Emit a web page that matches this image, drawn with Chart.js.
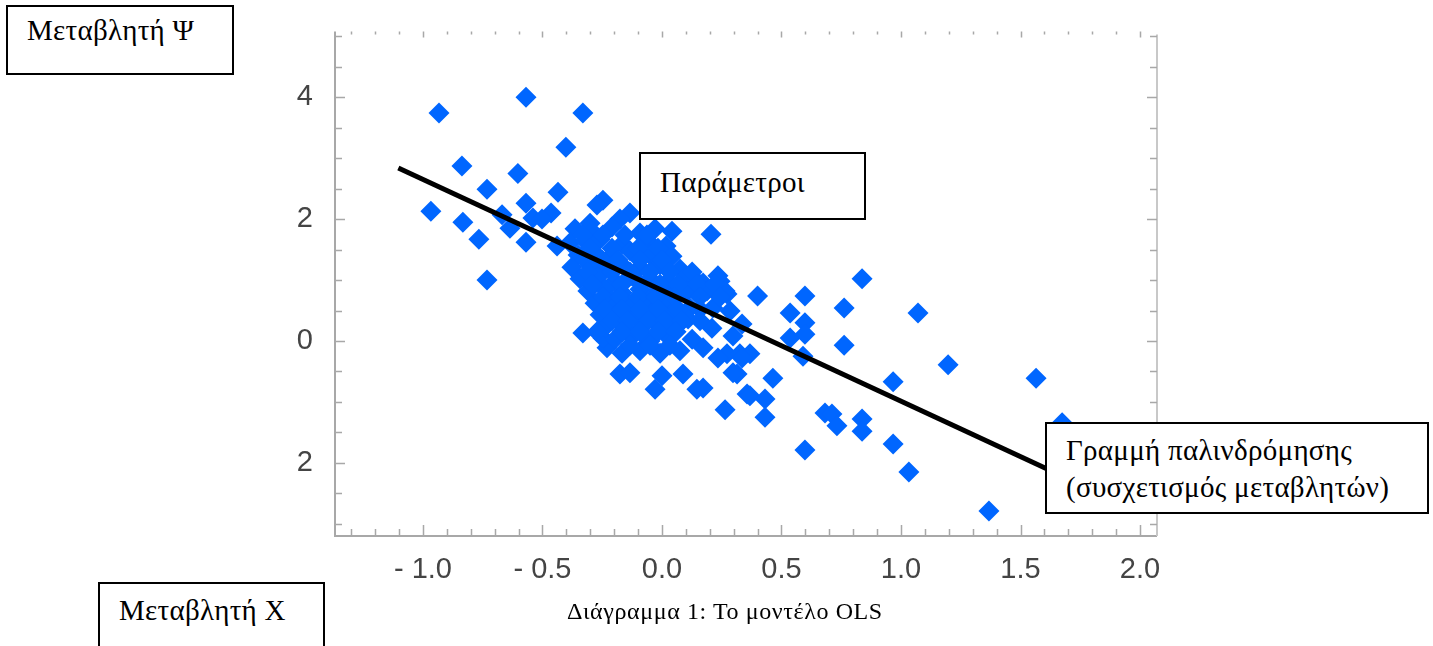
<!DOCTYPE html>
<html>
<head>
<meta charset="utf-8">
<script src="https://cdn.jsdelivr.net/npm/chart.js@4.4.1/dist/chart.umd.min.js"></script>
<style>
  body { margin: 0; background: #fff; }
  #wrap { position: relative; width: 1433px; height: 646px; overflow: hidden; }
  .box {
    position: absolute;
    background: #fff;
    border: 2px solid #000;
    box-sizing: border-box;
    font-family: "Liberation Serif", "DejaVu Serif", serif;
    font-size: 29px;
    letter-spacing: 0.3px;
    color: #000;
  }
  .caption {
    position: absolute;
    font-family: "Liberation Serif", "DejaVu Serif", serif;
    font-size: 24px;
    letter-spacing: 0.6px;
    color: #000;
  }
</style>
</head>
<body>
<div id="wrap">
  <canvas id="olsChart"></canvas>
  <div class="box" style="left:6px; top:5px; width:228px; height:70px; padding:7px 0 0 19px;">Μεταβλητή Ψ</div>
  <div class="box" style="left:639px; top:152px; width:227px; height:68px; padding:12px 0 0 19px;">Παράμετροι</div>
  <div class="box" style="left:1045px; top:422px; width:384px; height:92px; line-height:37px; padding:8px 0 0 19px;">Γραμμή παλινδρόμησης<br>(συσχετισμός μεταβλητών)</div>
  <div class="box" style="left:98px; top:582px; width:227px; height:80px; padding:10px 0 0 19px;">Μεταβλητή Χ</div>
  <div class="caption" style="left:567px; top:598px;">Διάγραμμα 1: Το μοντέλο OLS</div>
</div>
<script>
// τιμές σημείων (Χ, Ψ)
const xValues = [
  -0.933, -0.569, -0.331, -0.402, -0.837, -0.603, -0.732, -0.435, -0.569, -0.967,
  -0.833, -0.669, -0.540, -0.464, -0.247, -0.272, -0.766, -0.636, -0.569, -0.439,
  -0.301, -0.732, -0.134, -0.176, 0.042, 0.205, -0.502, 0.146, 0.243, 0.272,
  0.400, -0.331, -0.176, -0.134, 0.000, 0.088, -0.029, 0.146, 0.356, 0.172,
  0.272, 0.326, 0.314, -0.230, -0.247, 0.234, 0.264, 0.172, 0.598, 0.837,
  0.762, 0.536, 0.598, 0.536, 0.598, 0.590, 0.762, 1.071, 1.197, 0.967,
  0.297, 0.335, 0.209, 0.234, 0.368, 0.335, 0.297, 0.464, 0.172, 0.368,
  0.431, 0.264, 0.431, 0.682, 0.711, 0.732, 0.837, 0.837, 0.967, 0.598,
  1.033, 1.368, 1.565, 1.674,
  -0.364, -0.293, -0.209, -0.092, -0.029, -0.385, -0.322, -0.259, -0.167, -0.059,
  0.017, -0.351, -0.280, -0.218, -0.134, -0.050, 0.042, -0.377, -0.301, -0.238,
  -0.176, -0.092, -0.008, 0.075, -0.343, -0.268, -0.197, -0.126, -0.050, 0.025,
  0.100, -0.310, -0.238, -0.167, -0.092, -0.017, 0.059, 0.105, 0.188, -0.280,
  -0.209, -0.134, -0.059, 0.013, 0.117, 0.213, 0.285, -0.259, -0.184, -0.109,
  -0.042, 0.033, 0.109, -0.238, -0.167, -0.092, -0.017, 0.059, -0.197, -0.126,
  -0.050, 0.025, 0.126, -0.167, -0.092, -0.008, 0.075,
  -0.331, -0.247, -0.155, -0.063, -0.301, -0.209, -0.100, -0.017, -0.322, -0.251,
  -0.184, -0.092, 0.000, -0.310, -0.209, -0.134, -0.050, 0.033, 0.126, -0.293,
  -0.167, -0.088, -0.008, 0.067, 0.146, 0.222, -0.247, -0.176, -0.100, -0.025,
  0.054, 0.159, 0.243, -0.238, -0.167, -0.092, -0.017, 0.067, 0.159, -0.209,
  -0.142, -0.059, 0.013, 0.084, 0.159, -0.272, -0.167, -0.092, -0.017, 0.059,
  -0.134, -0.050, 0.033
];
const yValues = [
  3.74, 4.00, 3.74, 3.18, 2.87, 2.75, 2.49, 2.44, 2.26, 2.13,
  1.95, 2.07, 2.02, 2.10, 2.31, 2.23, 1.67, 1.85, 1.62, 1.56,
  1.93, 1.00, 2.10, 2.00, 1.80, 1.75, 2.00, 0.98, 0.98, 0.77,
  0.74, 0.13, -0.54, -0.52, -0.57, -0.54, -0.79, -0.79, -0.87, -0.11,
  -0.21, -0.21, -0.54, -0.11, 0.05, 1.07, 0.82, 0.95, 0.74, 1.02,
  0.54, 0.46, 0.30, 0.05, 0.11, -0.25, -0.07, 0.46, -0.39, -0.67,
  0.08, 0.28, 0.21, -0.28, -0.21, -0.28, -0.52, -0.61, -0.77, -0.90,
  -0.95, -1.13, -1.25, -1.18, -1.20, -1.39, -1.28, -1.48, -1.69, -1.79,
  -2.15, -2.79, -0.61, -1.34,
  1.84, 1.80, 1.87, 1.77, 1.84, 1.61, 1.64, 1.67, 1.59, 1.64,
  1.56, 1.41, 1.44, 1.38, 1.48, 1.41, 1.39, 1.21, 1.25, 1.18,
  1.28, 1.21, 1.25, 1.18, 1.02, 1.05, 0.98, 1.07, 1.02, 0.98,
  1.05, 0.82, 0.85, 0.79, 0.85, 0.82, 0.79, 0.82, 0.82, 0.62,
  0.66, 0.59, 0.66, 0.62, 0.54, 0.54, 0.49, 0.43, 0.46, 0.39,
  0.46, 0.43, 0.36, 0.23, 0.26, 0.20, 0.26, 0.23, 0.03, 0.07,
  0.00, 0.07, 0.03, -0.20, -0.16, -0.20, -0.16,
  1.74, 1.74, 1.74, 1.74, 1.52, 1.52, 1.52, 1.52, 1.33, 1.33,
  1.33, 1.33, 1.33, 1.13, 1.13, 1.13, 1.13, 1.13, 1.13, 0.93,
  0.93, 0.93, 0.93, 0.93, 0.93, 0.93, 0.72, 0.72, 0.72, 0.72,
  0.72, 0.72, 0.72, 0.52, 0.52, 0.52, 0.52, 0.52, 0.52, 0.33,
  0.33, 0.33, 0.33, 0.33, 0.33, 0.15, 0.15, 0.15, 0.15, 0.15,
  -0.07, -0.07, -0.07
];

// γραμμή παλινδρόμησης
const lineX = [-1.103, 1.65];
const lineY = [2.84, -2.17];

// άξονες
const xTickValues = [-1.0, -0.5, 0.0, 0.5, 1.0, 1.5, 2.0];
const xTickLabels = ['- 1.0', '- 0.5', '0.0', '0.5', '1.0', '1.5', '2.0'];
const yTickValues = [-2, 0, 2, 4];
const yTickLabels = ['2', '0', '2', '4'];

document.addEventListener("DOMContentLoaded", function() {
    const ctx = document.getElementById('olsChart').getContext('2d');

    const points = xValues.map((x, i) => ({ x: x, y: yValues[i] }));
    const linePts = lineX.map((x, i) => ({ x: x, y: lineY[i] }));

    // πλαίσιο με μικρές εσωτερικές γραμμές (ticks)
    const framePlugin = {
        id: 'frame',
        beforeDatasetsDraw(chart) {
            const c = chart.ctx;
            const a = chart.chartArea;
            const sx = chart.scales.x;
            const sy = chart.scales.y;
            c.save();
            c.strokeStyle = '#a8a8a8';
            c.lineWidth = 2;
            c.beginPath();
            c.moveTo(a.left, a.top);
            c.lineTo(a.left, a.bottom);
            c.lineTo(a.right, a.bottom);
            c.stroke();
            c.strokeStyle = '#c8c8c8';
            c.beginPath();
            c.moveTo(a.right, a.top + 3);
            c.lineTo(a.right, a.bottom);
            c.stroke();

            c.lineWidth = 1.5;
            c.strokeStyle = '#a8a8a8';
            // x ticks κάθε 0.1
            for (let k = -13; k <= 20; k++) {
                const v = k / 10;
                const px = Math.round(sx.getPixelForValue(v)) + 0.5;
                const major = k % 5 === 0;
                c.beginPath();
                c.moveTo(px, a.bottom);
                c.lineTo(px, a.bottom - (major ? 11 : 7));
                c.moveTo(px, a.top);
                c.lineTo(px, a.top + (major ? 6 : 3));
                c.stroke();
            }
            // y ticks κάθε 0.5
            for (let k = -6; k <= 10; k++) {
                const v = k / 2;
                const py = Math.round(sy.getPixelForValue(v)) + 0.5;
                const major = k % 4 === 0;
                c.beginPath();
                c.moveTo(a.left, py);
                c.lineTo(a.left + (major ? 10 : 7), py);
                c.moveTo(a.right, py);
                c.lineTo(a.right - (major ? 10 : 7), py);
                c.stroke();
            }
            c.restore();
        }
    };

    new Chart(ctx, {
        type: 'scatter',
        data: {
            datasets: [
                {
                    type: 'line',
                    label: 'Γραμμή παλινδρόμησης',
                    data: linePts,
                    borderColor: '#000000',
                    borderWidth: 5,
                    pointRadius: 0,
                    fill: false
                },
                {
                    label: 'Παρατηρήσεις',
                    data: points,
                    pointStyle: 'rectRot',
                    pointRadius: 10.5,
                    pointHoverRadius: 10.5,
                    backgroundColor: '#0066ff',
                    borderWidth: 0
                }
            ]
        },
        options: {
            responsive: true,
            maintainAspectRatio: false,
            animation: false,
            layout: { padding: { left: 0, right: 276, top: 30, bottom: 0 } },
            plugins: {
                legend: { display: false },
                tooltip: { enabled: false }
            },
            scales: {
                x: {
                    type: 'linear',
                    min: -1.368,
                    max: 2.071,
                    grid: { display: false },
                    border: { display: false },
                    afterBuildTicks: function(scale) {
                        scale.ticks = xTickValues.map(v => ({ value: v }));
                    },
                    afterFit: function(scale) { scale.height = 110; },
                    ticks: {
                        padding: 9,
                        maxRotation: 0,
                        autoSkip: false,
                        color: '#444444',
                        font: { family: 'Liberation Sans', size: 29 },
                        callback: function(value, index) { return xTickLabels[index]; }
                    }
                },
                y: {
                    type: 'linear',
                    min: -3.2,
                    max: 5.08,
                    grid: { display: false },
                    border: { display: false },
                    afterBuildTicks: function(scale) {
                        scale.ticks = yTickValues.map(v => ({ value: v }));
                    },
                    afterFit: function(scale) { scale.width = 335; },
                    ticks: {
                        padding: 14,
                        autoSkip: false,
                        color: '#444444',
                        font: { family: 'Liberation Sans', size: 29 },
                        callback: function(value, index) { return yTickLabels[index]; }
                    }
                }
            }
        },
        plugins: [framePlugin]
    });
});
</script>
</body>
</html>
